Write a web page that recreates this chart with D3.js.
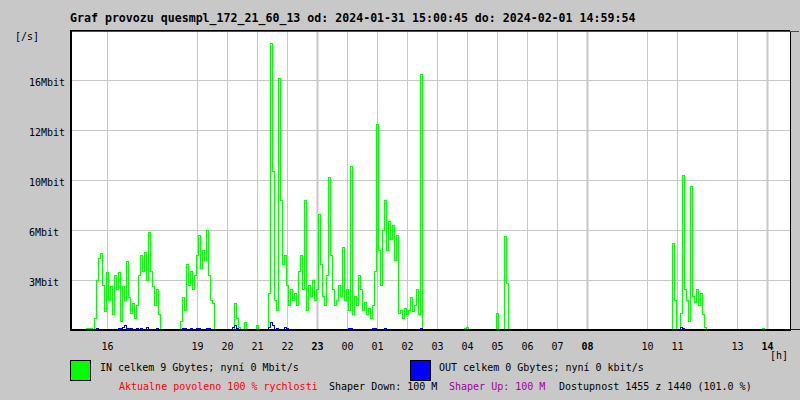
<!DOCTYPE html>
<html>
<head>
<meta charset="utf-8">
<script src="https://cdn.jsdelivr.net/npm/d3@7"></script>
<style>
  html, body { margin: 0; padding: 0; background: #c8c8c8; }
  svg { display: block; }
  text { font-family: "DejaVu Sans Mono", "Liberation Mono", monospace; }
</style>
</head>
<body>
<svg id="chart" width="800" height="400"></svg>
<script>
// ---------------- DATA ----------------
const titleText = "Graf provozu quesmpl_172_21_60_13 od: 2024-01-31 15:00:45 do: 2024-02-01 14:59:54";
const yUnitLabel = "[/s]";
const xUnitLabel = "[h]";

// hour gridlines (clock hour, continuing past midnight as 24, 25, ...)
const hourTicks  = [16, 19, 20, 21, 22, 23, 24, 25, 26, 27, 28, 29, 30, 31, 32, 34, 35, 37, 38];
const hourLabels = ["16","19","20","21","22","23","00","01","02","03","04","05","06","07","08","10","11","13","14"];
const boldHours  = [23, 32, 38];

// value gridlines (Mbit/s) and their printed labels
const yTickValues = [3.2, 6.4, 9.6, 12.8, 16];
const yTickLabels = ["3Mbit", "6Mbit", "10Mbit", "12Mbit", "16Mbit"];

// samples: start hour and step (minutes)
const sampleStartHour = 14.75;
const sampleStepMin = 4;

// IN traffic, Mbit/s
const inMbit = [
  0,0,0,0,0,0,0,0,0.1,0.1, 0.1,0,0.8,3.2,4.6,4.9,2.9,1.2,3.7,1.9,
  2.8,1.0,3.5,2.6,3.7,0.6,2.8,1.9,4.4,2.1, 1.1,1.7,0.8,1.6,3.5,4.8,3.8,5.0,3.2,6.3,
  3.8,2.8,1.6,2.6,1.0,0,0,0,0,0, 0,0,0,0,0,0.6,2.1,1.3,4.2,2.9,
  3.8,2.6,3.5,4.8,6.1,4.0,5.1,4.5,6.4,3.5, 1.9,1.7,0,0,0,0,0,0,0,0,
  0,0,1.7,0.8,0.2,0,0,0.5,0,0, 0,0,0,0.3,0,0,0,0,0,2.4,
  18.4,10.2,1.9,1.3,16.1,8.3,4.2,4.8,2.9,1.6, 2.6,1.9,2.4,1.6,3.8,4.8,2.6,8.3,1.3,2.9,
  2.2,3.2,1.9,2.6,7.4,4.2,2.2,1.6,3.5,9.8, 4.8,2.6,1.6,1.9,2.9,2.2,5.3,1.9,2.6,1.3,
  10.5,1.0,2.2,1.6,3.5,2.6,1.3,1.8,1.0,1.4, 0.8,1.6,3.8,13.2,5.1,2.9,6.4,8.3,5.1,7.0,
  5.8,6.7,4.5,6.1,1.1,1.3,0.8,1.4,1.0,1.3, 2.1,1.2,1.6,2.6,1.0,16.4,0,0,0,0,
  0,0,0,0,0,0,0,0,0,0, 0,0,0,0,0,0,0,0.1,0.2,0,
  0,0,0,0,0,0,0,0,0,0, 0,0,0,1.1,0,0,0,6.0,3.0,0,
  0,0,0,0,0,0,0,0,0,0, 0,0,0,0,0,0,0,0,0,0,
  0,0,0,0,0,0,0,0,0,0, 0,0,0,0,0,0,0,0,0,0,
  0,0,0,0,0,0,0,0,0,0, 0,0,0,0,0,0,0,0,0,0,
  0,0,0,0,0,0,0,0,0,0, 0,0,0,0,0,0,0,0,0,0,
  0,5.6,1.9,0,0,1.1,9.9,2.6,1.9,0.6, 9.2,2.2,1.8,2.6,1.6,2.4,1.0,0.2,0,0,
  0,0,0,0,0,0,0,0,0,0, 0,0,0,0,0,0,0,0,0,0,
  0,0,0,0,0,0,0.1,0,0,0, 0,0,0,0,0,0,0,0,0,0
];

// OUT traffic, Mbit/s
const outMbit = [
  0,0,0,0,0,0,0,0,0,0, 0,0,0,0.13,0,0,0,0,0,0,
  0,0,0,0,0.1,0.15,0.2,0.3,0.1,0.1, 0.1,0.05,0,0.1,0,0.1,0,0,0.2,0,
  0,0,0,0.1,0.05,0,0,0,0,0, 0,0,0,0,0,0,0.1,0.13,0,0,
  0.13,0,0,0.1,0.13,0.05,0,0,0.13,0.1, 0,0,0,0,0,0,0,0,0,0,
  0,0.2,0.35,0.1,0,0,0,0,0,0, 0,0,0,0,0,0,0,0,0,0.2,
  0.5,0.3,0,0.13,0,0,0,0.2,0.15,0, 0,0,0,0,0,0,0.06,0,0,0,
  0,0,0,0,0.06,0,0,0,0.06,0, 0,0,0,0,0,0,0,0,0,0.15,
  0.1,0,0,0,0,0,0,0,0,0, 0,0.13,0.1,0.06,0,0,0,0.1,0,0.06,
  0,0,0,0.06,0,0,0,0,0,0, 0,0,0,0,0,0.13,0,0,0,0,
  0,0,0,0,0,0,0,0,0,0, 0,0,0,0,0,0,0,0,0,0,
  0,0,0,0,0,0,0,0,0,0, 0,0,0,0,0,0,0,0,0,0,
  0,0,0,0,0,0,0,0,0,0, 0,0,0,0,0,0,0,0,0,0,
  0,0,0,0,0,0,0,0,0,0, 0,0,0,0,0,0,0,0,0,0,
  0,0,0,0,0,0,0,0,0,0, 0,0,0,0,0,0,0,0,0,0,
  0,0,0,0,0,0,0,0,0,0, 0,0,0,0,0,0,0,0,0,0,
  0,0,0,0,0,0.2,0.1,0,0,0, 0.06,0,0,0,0,0,0,0,0,0,
  0,0,0,0,0,0,0,0,0,0, 0,0,0,0,0,0,0,0,0,0,
  0,0,0,0,0,0,0,0,0,0, 0,0,0,0,0,0,0,0,0,0
];

const legendIn  = "IN celkem 9 Gbytes; nyní 0 Mbit/s";
const legendOut = "OUT celkem 0 Gbytes; nyní 0 kbit/s";
const footer = [
  { text: "Aktualne povoleno 100 % rychlosti", color: "#ff0000", x: 119 },
  { text: "Shaper Down: 100 M", color: "#000000", x: 329 },
  { text: "Shaper Up: 100 M", color: "#a000a0", x: 449 },
  { text: "Dostupnost 1455 z 1440 (101.0 %)", color: "#000000", x: 559 }
];

// ---------------- DRAW ----------------
const svg = d3.select("#chart");
const L = 70, R = 790, T = 31, B = 330;

svg.append("rect").attr("width", 800).attr("height", 400).attr("fill", "#c8c8c8");
svg.append("rect").attr("x", L).attr("y", T).attr("width", R - L).attr("height", B - T).attr("fill", "#ffffff");

const x = d3.scaleLinear().domain([14.75, 38.75]).range([L, R]);
const y = d3.scaleLinear().domain([0, 19.2]).range([B + 0.5, T - 0.5]);

// grid
const grid = svg.append("g");
grid.selectAll("line.h").data(yTickValues).join("line")
  .attr("x1", L).attr("x2", R)
  .attr("y1", d => y(d)).attr("y2", d => y(d))
  .attr("stroke", "#c8c8c8").attr("stroke-width", 1);
grid.selectAll("line.v").data(hourTicks).join("line")
  .attr("x1", d => x(d)).attr("x2", d => x(d))
  .attr("y1", T).attr("y2", B)
  .attr("stroke", "#c8c8c8")
  .attr("stroke-width", d => boldHours.includes(d) ? 2 : 1);

// series
const tOf = i => sampleStartHour + i * sampleStepMin / 60;
const line = d3.line()
  .x((d, i) => x(tOf(i)) + 0.5)
  .y(d => y(d))
  .curve(d3.curveStepAfter);
function withEnd(arr) { return arr.concat([arr[arr.length - 1]]); }

svg.append("path").datum(withEnd(inMbit))
  .attr("d", line).attr("fill", "none")
  .attr("stroke", "#00ff00").attr("stroke-width", 1)
  .attr("shape-rendering", "crispEdges");
svg.append("path").datum(withEnd(outMbit))
  .attr("d", line).attr("fill", "none")
  .attr("stroke", "#0000ff").attr("stroke-width", 1)
  .attr("shape-rendering", "crispEdges");

// frame & axes
svg.append("line").attr("x1", L).attr("x2", R).attr("y1", T - 0.5).attr("y2", T - 0.5).attr("stroke", "#000");
svg.append("line").attr("x1", R + 0.5).attr("x2", R + 0.5).attr("y1", T).attr("y2", B).attr("stroke", "#000");
svg.append("line").attr("x1", L).attr("x2", 799).attr("y1", T + 0.5).attr("y2", T + 0.5).attr("stroke", "#ff0000");
svg.append("line").attr("x1", L + 1).attr("x2", L + 1).attr("y1", T - 1).attr("y2", B + 1).attr("stroke", "#000").attr("stroke-width", 2);
svg.append("line").attr("x1", L).attr("x2", R + 1).attr("y1", B).attr("y2", B).attr("stroke", "#000").attr("stroke-width", 2);
svg.append("line").attr("x1", R + 1).attr("x2", 800).attr("y1", B - 0.5).attr("y2", B - 0.5).attr("stroke", "#0000ff");

// y labels
svg.selectAll("text.yl").data(yTickValues).join("text")
  .attr("x", 29).attr("y", d => y(d) + 5)
  .attr("font-size", 10).attr("fill", "#000")
  .text((d, i) => yTickLabels[i]);
svg.append("text").attr("x", 15).attr("y", 40).attr("font-size", 10).text(yUnitLabel);

// x labels
svg.selectAll("text.xl").data(hourTicks).join("text")
  .attr("x", d => x(d)).attr("y", 350)
  .attr("text-anchor", "middle")
  .attr("font-size", 10)
  .attr("font-weight", d => boldHours.includes(d) ? "bold" : "normal")
  .text((d, i) => hourLabels[i]);
svg.append("text").attr("x", 770).attr("y", 359).attr("font-size", 10).text(xUnitLabel);

// title
svg.append("text").attr("x", 70).attr("y", 22)
  .attr("font-size", 11.6).attr("font-weight", "bold").text(titleText);

// legend
svg.append("rect").attr("x", 70.5).attr("y", 360.5).attr("width", 20).attr("height", 20)
  .attr("fill", "#00ff00").attr("stroke", "#000");
svg.append("text").attr("x", 100).attr("y", 371).attr("font-size", 10).text(legendIn);
svg.append("rect").attr("x", 410.5).attr("y", 360.5).attr("width", 20).attr("height", 20)
  .attr("fill", "#0000ff").attr("stroke", "#000");
svg.append("text").attr("x", 439).attr("y", 371).attr("font-size", 10).text(legendOut);

svg.selectAll("text.ft").data(footer).join("text")
  .attr("x", d => d.x).attr("y", 390)
  .attr("font-size", 10).attr("fill", d => d.color)
  .text(d => d.text);
</script>
</body>
</html>
